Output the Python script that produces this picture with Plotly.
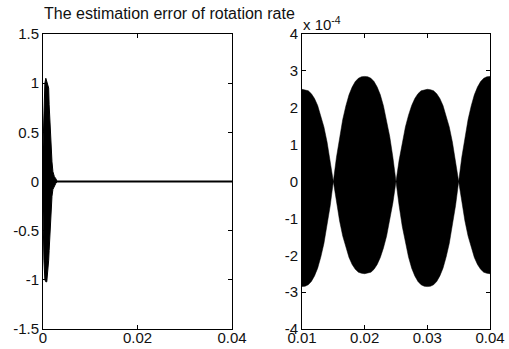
import plotly.graph_objects as go

# Left panel: envelope of decaying oscillation
t_left = [0.0, 0.0002, 0.0004, 0.0006, 0.0008, 0.0010, 0.0012, 0.0013, 0.0015, 0.0017, 0.0019, 0.0021, 0.0024, 0.0027, 0.0030, 0.04]
upper_left = [0.35, 0.8, 1.0, 1.05, 1.02, 1.0, 0.95, 0.78, 0.55, 0.35, 0.2, 0.1, 0.05, 0.03, 0.0, 0.0]
lower_left = [-0.3, -0.8, -1.0, -1.02, -1.02, -0.95, -0.8, -0.7, -0.45, -0.3, -0.15, -0.08, -0.05, -0.02, 0.0, 0.0]

# Right panel: envelope (units of 1e-4), sampled every 0.0005 s from 0.010 to 0.040
t_right = [round(0.010 + 0.0005 * i, 4) for i in range(61)]
upper_right = [2.5, 2.49, 2.46, 2.38, 2.25, 2.06, 1.80, 1.48, 1.07, 0.58, 0.0,
               0.66, 1.22, 1.68, 2.05, 2.35, 2.56, 2.71, 2.80, 2.84, 2.85, 2.84, 2.80, 2.71, 2.56, 2.35, 2.05, 1.68, 1.22, 0.66, 0.0,
               0.58, 1.07, 1.48, 1.80, 2.06, 2.25, 2.38, 2.46, 2.49, 2.5, 2.49, 2.46, 2.38, 2.25, 2.06, 1.80, 1.48, 1.07, 0.58, 0.0,
               0.66, 1.22, 1.68, 2.05, 2.35, 2.56, 2.71, 2.80, 2.84, 2.85]
lower_right = [-2.85, -2.84, -2.80, -2.71, -2.56, -2.35, -2.05, -1.68, -1.22, -0.66, 0.0,
               -0.58, -1.07, -1.48, -1.80, -2.06, -2.25, -2.38, -2.46, -2.49, -2.5, -2.49, -2.46, -2.38, -2.25, -2.06, -1.80, -1.48, -1.07, -0.58, 0.0,
               -0.66, -1.22, -1.68, -2.05, -2.35, -2.56, -2.71, -2.80, -2.84, -2.85, -2.84, -2.80, -2.71, -2.56, -2.35, -2.05, -1.68, -1.22, -0.66, 0.0,
               -0.58, -1.07, -1.48, -1.80, -2.06, -2.25, -2.38, -2.46, -2.49, -2.5]

left_xticks = [0, 0.02, 0.04]
left_yticks = [-1.5, -1, -0.5, 0, 0.5, 1, 1.5]
right_xticks = [0.01, 0.02, 0.03, 0.04]
right_yticks = [-4, -3, -2, -1, 0, 1, 2, 3, 4]

fig = go.Figure()

fig.add_trace(go.Scatter(
    x=t_left + t_left[::-1], y=upper_left + lower_left[::-1],
    fill='toself', fillcolor='black', mode='lines',
    line=dict(color='black', width=1), xaxis='x', yaxis='y', showlegend=False, hoverinfo='skip'))
fig.add_trace(go.Scatter(
    x=[t_left[0], t_left[-1]], y=[0, 0], mode='lines',
    line=dict(color='black', width=2), xaxis='x', yaxis='y', showlegend=False, hoverinfo='skip'))

fig.add_trace(go.Scatter(
    x=t_right + t_right[::-1], y=upper_right + lower_right[::-1],
    fill='toself', fillcolor='black', mode='lines',
    line=dict(color='black', width=0.5), xaxis='x2', yaxis='y2', showlegend=False, hoverinfo='skip'))

W, H = 509, 349
def px(x):
    return x / W
def py(y):
    return 1 - y / H

font = dict(family='Liberation Sans, Arial', size=15, color='#111')
axcommon = dict(showgrid=False, zeroline=False, showline=True, linecolor='black', linewidth=1,
                mirror='ticks', ticks='inside', ticklen=4, tickcolor='black', tickfont=font,
                automargin=False)

fig.update_layout(
    width=W, height=H,
    margin=dict(l=0, r=0, t=0, b=0),
    paper_bgcolor='white', plot_bgcolor='white',
    xaxis=dict(domain=[px(43), px(232)], range=[0, 0.04], tickvals=left_xticks,
               ticktext=['0', '0.02', '0.04'], anchor='y', ticklabelstandoff=-5, **axcommon),
    yaxis=dict(domain=[py(329), py(34)], range=[-1.5, 1.5], tickvals=left_yticks,
               ticktext=['-1.5', '-1', '-0.5', '0', '0.5', '1', '1.5'], anchor='x', **axcommon),
    xaxis2=dict(domain=[px(302), px(490)], range=[0.01, 0.04], tickvals=right_xticks,
                ticktext=['0.01', '0.02', '0.03', '0.04'], anchor='y2', ticklabelstandoff=-5, **axcommon),
    yaxis2=dict(domain=[py(329), py(34)], range=[-4, 4], tickvals=right_yticks,
                ticktext=[str(v) for v in right_yticks], anchor='x2', **axcommon),
    annotations=[
        dict(text='The estimation error of rotation rate', x=px(42), y=py(13), xref='paper', yref='paper',
             xanchor='left', yanchor='middle', showarrow=False,
             font=dict(family='Liberation Sans, Arial', size=16, color='#111')),
        dict(text='x 10<sup>-4</sup>', x=px(301), y=py(24), xref='paper', yref='paper',
             xanchor='left', yanchor='middle', showarrow=False,
             font=dict(family='Liberation Sans, Arial', size=15, color='#111')),
    ],
)

fig.write_html('out.html', config={'displayModeBar': False},
               post_script="document.body.style.margin='0';document.body.style.overflow='hidden';")
